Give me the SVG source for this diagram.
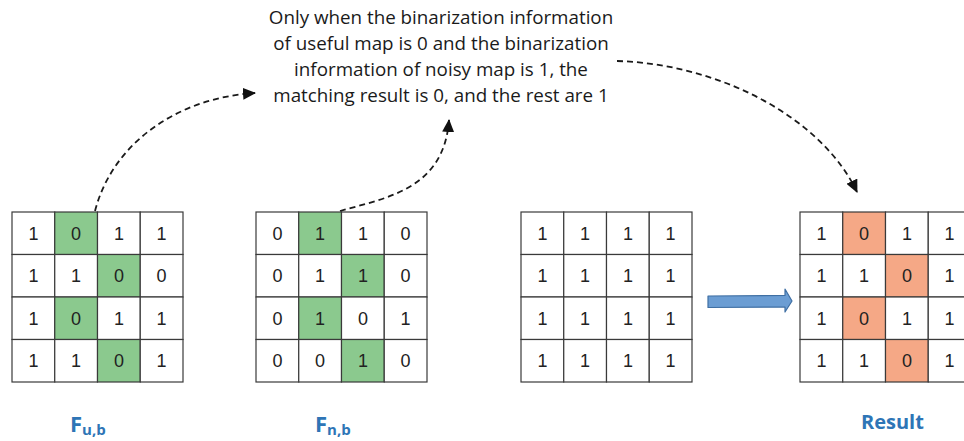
<svg xmlns="http://www.w3.org/2000/svg" width="964" height="441" viewBox="0 0 964 441">
  <style>
    .cell { fill: #ffffff; stroke: #3a3a3a; stroke-width: 1.2; }
    .g { fill: #8bc98e; }
    .o { fill: #f5a886; }
    .num { font-family: "Liberation Sans", Arial, sans-serif; font-size: 18px; fill: #222222; text-anchor: middle; }
    .note { font-family: "Open Sans", "Liberation Sans", sans-serif; font-size: 18.8px; fill: #1a1a1a; text-anchor: middle; }
    .lbl { font-family: "Open Sans", "Liberation Sans", sans-serif; font-weight: bold; fill: #2e75b6; }
    .dash { fill: none; stroke: #1a1a1a; stroke-width: 1.8; stroke-dasharray: 6 4; marker-end: url(#tip); }
  </style>
  <defs>
    <marker id="tip" markerUnits="userSpaceOnUse" markerWidth="14" markerHeight="12" refX="12" refY="6" orient="auto">
      <path d="M0,0 L13,6 L0,12 Z" fill="#111111"/>
    </marker>
  </defs>
  <rect width="964" height="441" fill="#ffffff"/>

  <!-- explanatory note -->
  <g id="note">
    <text class="note" x="441" y="24">Only when the binarization information</text>
    <text class="note" x="441" y="50">of useful map is 0 and the binarization</text>
    <text class="note" x="441" y="76">information of noisy map is 1, the</text>
    <text class="note" x="441" y="102">matching result is 0, and the rest are 1</text>
  </g>

  <!-- useful map -->
  <g id="useful-map" transform="translate(12,212)">
    <g>
      <rect class="cell" x="0" y="0" width="42.75" height="42.5"/><rect class="cell g" x="42.75" y="0" width="42.75" height="42.5"/><rect class="cell" x="85.5" y="0" width="42.75" height="42.5"/><rect class="cell" x="128.25" y="0" width="42.75" height="42.5"/>
      <rect class="cell" x="0" y="42.5" width="42.75" height="42.5"/><rect class="cell" x="42.75" y="42.5" width="42.75" height="42.5"/><rect class="cell g" x="85.5" y="42.5" width="42.75" height="42.5"/><rect class="cell" x="128.25" y="42.5" width="42.75" height="42.5"/>
      <rect class="cell" x="0" y="85" width="42.75" height="42.5"/><rect class="cell g" x="42.75" y="85" width="42.75" height="42.5"/><rect class="cell" x="85.5" y="85" width="42.75" height="42.5"/><rect class="cell" x="128.25" y="85" width="42.75" height="42.5"/>
      <rect class="cell" x="0" y="127.5" width="42.75" height="42.5"/><rect class="cell" x="42.75" y="127.5" width="42.75" height="42.5"/><rect class="cell g" x="85.5" y="127.5" width="42.75" height="42.5"/><rect class="cell" x="128.25" y="127.5" width="42.75" height="42.5"/>
    </g>
    <text class="num" x="21.4" y="27.5">1</text><text class="num" x="64.1" y="27.5">0</text><text class="num" x="106.9" y="27.5">1</text><text class="num" x="149.6" y="27.5">1</text>
    <text class="num" x="21.4" y="70">1</text><text class="num" x="64.1" y="70">1</text><text class="num" x="106.9" y="70">0</text><text class="num" x="149.6" y="70">0</text>
    <text class="num" x="21.4" y="112.5">1</text><text class="num" x="64.1" y="112.5">0</text><text class="num" x="106.9" y="112.5">1</text><text class="num" x="149.6" y="112.5">1</text>
    <text class="num" x="21.4" y="155">1</text><text class="num" x="64.1" y="155">1</text><text class="num" x="106.9" y="155">0</text><text class="num" x="149.6" y="155">1</text>
  </g>

  <!-- noisy map -->
  <g id="noisy-map" transform="translate(256,212)">
    <g>
      <rect class="cell" x="0" y="0" width="42.75" height="42.5"/><rect class="cell g" x="42.75" y="0" width="42.75" height="42.5"/><rect class="cell" x="85.5" y="0" width="42.75" height="42.5"/><rect class="cell" x="128.25" y="0" width="42.75" height="42.5"/>
      <rect class="cell" x="0" y="42.5" width="42.75" height="42.5"/><rect class="cell" x="42.75" y="42.5" width="42.75" height="42.5"/><rect class="cell g" x="85.5" y="42.5" width="42.75" height="42.5"/><rect class="cell" x="128.25" y="42.5" width="42.75" height="42.5"/>
      <rect class="cell" x="0" y="85" width="42.75" height="42.5"/><rect class="cell g" x="42.75" y="85" width="42.75" height="42.5"/><rect class="cell" x="85.5" y="85" width="42.75" height="42.5"/><rect class="cell" x="128.25" y="85" width="42.75" height="42.5"/>
      <rect class="cell" x="0" y="127.5" width="42.75" height="42.5"/><rect class="cell" x="42.75" y="127.5" width="42.75" height="42.5"/><rect class="cell g" x="85.5" y="127.5" width="42.75" height="42.5"/><rect class="cell" x="128.25" y="127.5" width="42.75" height="42.5"/>
    </g>
    <text class="num" x="21.4" y="27.5">0</text><text class="num" x="64.1" y="27.5">1</text><text class="num" x="106.9" y="27.5">1</text><text class="num" x="149.6" y="27.5">0</text>
    <text class="num" x="21.4" y="70">0</text><text class="num" x="64.1" y="70">1</text><text class="num" x="106.9" y="70">1</text><text class="num" x="149.6" y="70">0</text>
    <text class="num" x="21.4" y="112.5">0</text><text class="num" x="64.1" y="112.5">1</text><text class="num" x="106.9" y="112.5">0</text><text class="num" x="149.6" y="112.5">1</text>
    <text class="num" x="21.4" y="155">0</text><text class="num" x="64.1" y="155">0</text><text class="num" x="106.9" y="155">1</text><text class="num" x="149.6" y="155">0</text>
  </g>

  <!-- all-ones map -->
  <g id="ones-map" transform="translate(521,212)">
    <g>
      <rect class="cell" x="0" y="0" width="42.75" height="42.5"/><rect class="cell" x="42.75" y="0" width="42.75" height="42.5"/><rect class="cell" x="85.5" y="0" width="42.75" height="42.5"/><rect class="cell" x="128.25" y="0" width="42.75" height="42.5"/>
      <rect class="cell" x="0" y="42.5" width="42.75" height="42.5"/><rect class="cell" x="42.75" y="42.5" width="42.75" height="42.5"/><rect class="cell" x="85.5" y="42.5" width="42.75" height="42.5"/><rect class="cell" x="128.25" y="42.5" width="42.75" height="42.5"/>
      <rect class="cell" x="0" y="85" width="42.75" height="42.5"/><rect class="cell" x="42.75" y="85" width="42.75" height="42.5"/><rect class="cell" x="85.5" y="85" width="42.75" height="42.5"/><rect class="cell" x="128.25" y="85" width="42.75" height="42.5"/>
      <rect class="cell" x="0" y="127.5" width="42.75" height="42.5"/><rect class="cell" x="42.75" y="127.5" width="42.75" height="42.5"/><rect class="cell" x="85.5" y="127.5" width="42.75" height="42.5"/><rect class="cell" x="128.25" y="127.5" width="42.75" height="42.5"/>
    </g>
    <text class="num" x="21.4" y="27.5">1</text><text class="num" x="64.1" y="27.5">1</text><text class="num" x="106.9" y="27.5">1</text><text class="num" x="149.6" y="27.5">1</text>
    <text class="num" x="21.4" y="70">1</text><text class="num" x="64.1" y="70">1</text><text class="num" x="106.9" y="70">1</text><text class="num" x="149.6" y="70">1</text>
    <text class="num" x="21.4" y="112.5">1</text><text class="num" x="64.1" y="112.5">1</text><text class="num" x="106.9" y="112.5">1</text><text class="num" x="149.6" y="112.5">1</text>
    <text class="num" x="21.4" y="155">1</text><text class="num" x="64.1" y="155">1</text><text class="num" x="106.9" y="155">1</text><text class="num" x="149.6" y="155">1</text>
  </g>

  <!-- result map -->
  <g id="result-map" transform="translate(800,212)">
    <g>
      <rect class="cell" x="0" y="0" width="42.75" height="42.5"/><rect class="cell o" x="42.75" y="0" width="42.75" height="42.5"/><rect class="cell" x="85.5" y="0" width="42.75" height="42.5"/><rect class="cell" x="128.25" y="0" width="42.75" height="42.5"/>
      <rect class="cell" x="0" y="42.5" width="42.75" height="42.5"/><rect class="cell" x="42.75" y="42.5" width="42.75" height="42.5"/><rect class="cell o" x="85.5" y="42.5" width="42.75" height="42.5"/><rect class="cell" x="128.25" y="42.5" width="42.75" height="42.5"/>
      <rect class="cell" x="0" y="85" width="42.75" height="42.5"/><rect class="cell o" x="42.75" y="85" width="42.75" height="42.5"/><rect class="cell" x="85.5" y="85" width="42.75" height="42.5"/><rect class="cell" x="128.25" y="85" width="42.75" height="42.5"/>
      <rect class="cell" x="0" y="127.5" width="42.75" height="42.5"/><rect class="cell" x="42.75" y="127.5" width="42.75" height="42.5"/><rect class="cell o" x="85.5" y="127.5" width="42.75" height="42.5"/><rect class="cell" x="128.25" y="127.5" width="42.75" height="42.5"/>
    </g>
    <text class="num" x="21.4" y="27.5">1</text><text class="num" x="64.1" y="27.5">0</text><text class="num" x="106.9" y="27.5">1</text><text class="num" x="149.6" y="27.5">1</text>
    <text class="num" x="21.4" y="70">1</text><text class="num" x="64.1" y="70">1</text><text class="num" x="106.9" y="70">0</text><text class="num" x="149.6" y="70">1</text>
    <text class="num" x="21.4" y="112.5">1</text><text class="num" x="64.1" y="112.5">0</text><text class="num" x="106.9" y="112.5">1</text><text class="num" x="149.6" y="112.5">1</text>
    <text class="num" x="21.4" y="155">1</text><text class="num" x="64.1" y="155">1</text><text class="num" x="106.9" y="155">0</text><text class="num" x="149.6" y="155">1</text>
  </g>

  <!-- labels -->
  <g id="label-fu">
    <text class="lbl" x="70" y="432"><tspan font-size="22">F</tspan><tspan font-size="15" dy="3">u,b</tspan></text>
  </g>
  <g id="label-fn">
    <text class="lbl" x="315" y="432"><tspan font-size="22">F</tspan><tspan font-size="15" dy="3">n,b</tspan></text>
  </g>
  <g id="label-result">
    <text class="lbl" x="861" y="429" font-size="20">Result</text>
  </g>

  <!-- connectors -->
  <g id="connectors">
    <path class="dash" d="M95,211 C112,145 175,98 255,93"/>
    <path class="dash" d="M340,211 C385,198 444,190 449,120"/>
    <path class="dash" d="M617,61 C720,64 822,118 857,192"/>
    <path d="M708,296 L785,295.5 L785,289 L792,301 L785,312 L785,307 L708,307.5 Z" fill="#6b9dd3" stroke="#3f6fa3" stroke-width="1.2" stroke-linejoin="round"/>
  </g>
</svg>
